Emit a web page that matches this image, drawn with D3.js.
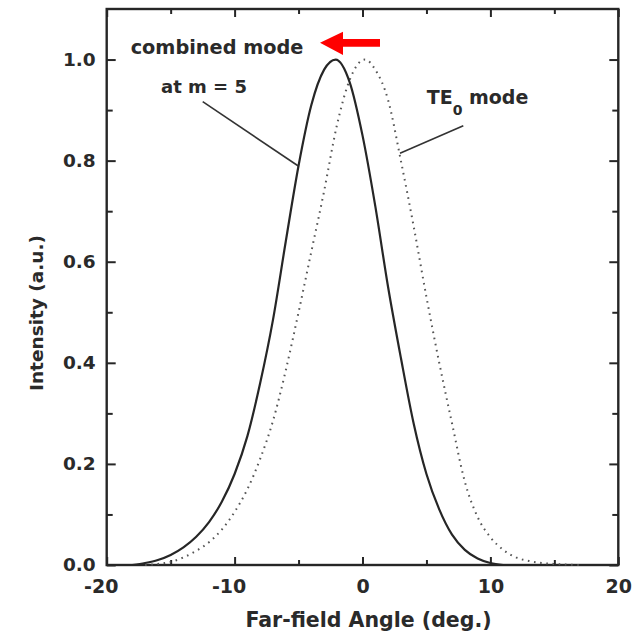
<!DOCTYPE html>
<html>
<head>
<meta charset="utf-8">
<script src="https://cdn.jsdelivr.net/npm/d3@7"></script>
<style>
  html, body { margin: 0; padding: 0; background: #fff; }
  svg { display: block; }
  text { font-family: "DejaVu Sans", sans-serif; font-weight: bold; fill: #2a2a2a; }
</style>
</head>
<body>
<svg id="chart" width="643" height="633"></svg>
<script>
// ---- data ----
const combinedAngle = [-18, -17, -16, -15, -14, -13, -12, -11, -10, -9, -8, -7, -6, -5, -4, -3, -2.1, -1, 0, 1, 2, 3, 4, 5, 6, 7, 8, 9, 10, 11];
const combinedIntensity = [0, 0.004, 0.01, 0.02, 0.035, 0.056, 0.085, 0.125, 0.18, 0.255, 0.36, 0.485, 0.64, 0.79, 0.91, 0.98, 1.0, 0.955, 0.85, 0.71, 0.55, 0.41, 0.28, 0.18, 0.11, 0.06, 0.03, 0.013, 0.004, 0];
const te0Angle = [-17, -16, -15, -14, -13, -12, -11, -10, -9, -8, -7, -6, -5, -4, -3, -2, -1, 0.2, 1, 2, 3, 4, 5, 6, 7, 8, 9, 10, 11, 12, 13, 14, 15, 17];
const te0Intensity = [0, 0.002, 0.006, 0.015, 0.028, 0.045, 0.07, 0.105, 0.15, 0.21, 0.285, 0.385, 0.5, 0.62, 0.74, 0.87, 0.96, 1.0, 0.98, 0.92, 0.8, 0.67, 0.53, 0.4, 0.28, 0.165, 0.095, 0.055, 0.03, 0.015, 0.008, 0.004, 0.002, 0];
const xMajorTicks = [-20, -10, 0, 10, 20];
const xMinorTicks = [-15, -5, 5, 15];
const yMajorTicks = [0, 0.2, 0.4, 0.6, 0.8, 1.0];
const yMinorTicks = [0.1, 0.3, 0.5, 0.7, 0.9];

// ---- layout ----
const L = 106.7, R = 618.3, T = 9, B = 565;
const svg = d3.select("#chart");
const x = d3.scaleLinear().domain([-20, 20]).range([L, R]);
const y = d3.scaleLinear().domain([0, 1.1]).range([B, T]);
const ink = "#262626";

function styleAxis(g) {
  g.select(".domain").remove();
  g.selectAll(".tick line").attr("stroke", ink).attr("stroke-width", 2);
}

// bottom major
svg.append("g").attr("transform", `translate(0,${B})`)
  .call(d3.axisBottom(x).tickValues(xMajorTicks).tickSize(-8).tickPadding(14.5).tickFormat(d3.format("d")))
  .call(styleAxis)
  .call(g => g.selectAll(".tick text")
      .attr("font-size", 19).attr("font-family", "DejaVu Sans").attr("font-weight", "bold")
      .attr("fill", "#2a2a2a")
      .attr("dx", d => d < 0 ? -6 : 0)
      .text(d => d < 0 ? "-" + Math.abs(d) : String(d)));
// bottom minor
svg.append("g").attr("transform", `translate(0,${B})`)
  .call(d3.axisBottom(x).tickValues(xMinorTicks).tickSize(-5).tickFormat(""))
  .call(styleAxis);
// top
svg.append("g").attr("transform", `translate(0,${T})`)
  .call(d3.axisTop(x).tickValues(xMajorTicks).tickSize(-8).tickFormat(""))
  .call(styleAxis);
svg.append("g").attr("transform", `translate(0,${T})`)
  .call(d3.axisTop(x).tickValues(xMinorTicks).tickSize(-5).tickFormat(""))
  .call(styleAxis);
// left major
svg.append("g").attr("transform", `translate(${L},0)`)
  .call(d3.axisLeft(y).tickValues(yMajorTicks).tickSize(-9).tickPadding(11).tickFormat(d3.format(".1f")))
  .call(styleAxis)
  .call(g => g.selectAll(".tick text")
      .attr("font-size", 18.5).attr("font-family", "DejaVu Sans").attr("font-weight", "bold")
      .attr("fill", "#2a2a2a"));
svg.append("g").attr("transform", `translate(${L},0)`)
  .call(d3.axisLeft(y).tickValues(yMinorTicks).tickSize(-6).tickFormat(""))
  .call(styleAxis);
// right
svg.append("g").attr("transform", `translate(${R},0)`)
  .call(d3.axisRight(y).tickValues(yMajorTicks).tickSize(-9).tickFormat(""))
  .call(styleAxis);
svg.append("g").attr("transform", `translate(${R},0)`)
  .call(d3.axisRight(y).tickValues(yMinorTicks).tickSize(-6).tickFormat(""))
  .call(styleAxis);

// frame
svg.append("rect").attr("x", L).attr("y", T).attr("width", R - L).attr("height", B - T)
  .attr("fill", "none").attr("stroke", ink).attr("stroke-width", 2.4);

// curves
const line = d3.line().x(d => x(d[0])).y(d => y(d[1])).curve(d3.curveMonotoneX);
const te0 = te0Angle.map((a, i) => [a, te0Intensity[i]]);
const comb = combinedAngle.map((a, i) => [a, combinedIntensity[i]]);
svg.append("path").datum(te0).attr("d", line)
  .attr("fill", "none").attr("stroke", "#555").attr("stroke-width", 2)
  .attr("stroke-dasharray", "1.6,4.6");
svg.append("path").datum(comb).attr("d", line)
  .attr("fill", "none").attr("stroke", ink).attr("stroke-width", 2.2);

// axis titles
svg.append("text").attr("x", (L + R) / 2 + 6).attr("y", 626.5)
  .attr("text-anchor", "middle").attr("font-size", 20.5).text("Far-field Angle (deg.)");
svg.append("text").attr("transform", `translate(43,${313}) rotate(-90)`)
  .attr("text-anchor", "middle").attr("font-size", 18.5).text("Intensity (a.u.)");

// annotations
svg.append("text").attr("x", 130.7).attr("y", 54).attr("font-size", 19.3).text("combined mode");
svg.append("text").attr("x", 161).attr("y", 93.3).attr("font-size", 18).text("at m = 5");
const te = svg.append("text").attr("x", 426.7).attr("y", 104).attr("font-size", 19);
te.append("tspan").text("TE");
te.append("tspan").attr("dy", 11).attr("font-size", 14).text("0");
te.append("tspan").attr("dy", -11).text(" mode");

svg.append("line").attr("x1", 202.7).attr("y1", 101.7).attr("x2", 298.3).attr("y2", 166)
  .attr("stroke", "#333").attr("stroke-width", 1.6);
svg.append("line").attr("x1", 463.3).attr("y1", 125.7).attr("x2", 400).attr("y2", 153.3)
  .attr("stroke", "#333").attr("stroke-width", 1.6);

// red arrow
svg.append("path")
  .attr("d", "M320,42.7 L343,31.7 L343,39 L380,39 L380,46.7 L343,46.7 L343,55 Z")
  .attr("fill", "#ff0000");
</script>
</body>
</html>
